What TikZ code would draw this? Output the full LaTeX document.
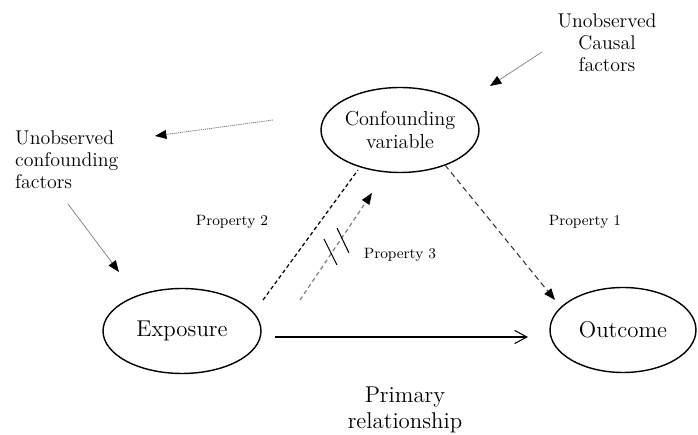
\documentclass[tikz,border=0pt]{standalone}
\usepackage{tikz}
\usetikzlibrary{shapes.geometric}
\usetikzlibrary{arrows.meta}

\tikzset{
  blob/.style={draw, ellipse, line width=0.8pt, inner sep=0pt, minimum height=1.7cm, align=center},
  note/.style={align=center, font=\fontsize{11.3}{12.6}\selectfont},
  prop/.style={font=\fontsize{8.5}{10}\selectfont},
  head/.style={-{Triangle[length=6.5pt,width=5pt,color=black]}},
}

\begin{document}
\begin{tikzpicture}[x=0.02cm,y=-0.02cm]
    \useasboundingbox (0,0) rectangle (698,435);

    \node[blob, minimum width=3.16cm, font=\fontsize{11.5}{13.5}\selectfont] (conf) at (400,130) {Confounding\\variable};
    \node[blob, minimum width=3.16cm, font=\fontsize{13}{15}\selectfont] (expo) at (182,331) {Exposure};
    \node[blob, minimum width=2.92cm, font=\fontsize{13}{15}\selectfont] (outc) at (623,330) {Outcome};

    \coordinate (A1) at (273,120);
    \coordinate (A2) at (155,136);
    \coordinate (B1) at (542,52);
    \coordinate (B2) at (490,86);
    \coordinate (C1) at (68,204);
    \coordinate (C2) at (119,272);
    \coordinate (D1) at (263,300);
    \coordinate (D2) at (358,170);
    \coordinate (E1) at (300,300);
    \coordinate (E2) at (372,193);
    \coordinate (F1) at (445,165);
    \coordinate (F2) at (555,300);
    \coordinate (G1) at (275,337);
    \coordinate (G2) at (528,337);

    \coordinate (T1) at (324,239);
    \coordinate (T2) at (337,265);
    \coordinate (T3) at (337,228);
    \coordinate (T4) at (349,253);


    \draw[head, gray, line width=0.5pt, dash pattern=on 0.7pt off 0.5pt] (A1) -- (A2);
    \draw[head, gray, line width=0.4pt] (B1) -- (B2);
    \draw[head, gray, line width=0.4pt] (C1) -- (C2);
    \draw[line width=0.7pt, dash pattern=on 2.2pt off 1.6pt] (D1) -- (D2);
    \draw[head, gray, line width=0.7pt, dash pattern=on 2.4pt off 1.8pt] (E1) -- (E2);
    \draw[head, black!80, line width=0.6pt, dash pattern=on 3.2pt off 2.2pt] (F1) -- (F2);
    \draw[-{Straight Barb[length=7pt,width=7.5pt]}, line width=0.6pt] (G1) -- (G2);
    \draw[line width=0.6pt] (T1) -- (T2);
    \draw[line width=0.6pt] (T3) -- (T4);


%labels
    \node[note, align=left, anchor=west] (uconf) at (9,160) {Unobserved\\confounding\\factors};
    \node[note] (ucaus) at (607,43) {Unobserved\\Causal\\factors};
    \node[prop] (p2) at (232,222) {Property 2};
    \node[prop] (p1) at (585,222) {Property 1};
    \node[prop] (p3) at (400,255) {Property 3};
    \node[align=center, font=\fontsize{13}{15}\selectfont] (prim) at (405,410) {Primary\\relationship};

\end{tikzpicture}
\end{document}
